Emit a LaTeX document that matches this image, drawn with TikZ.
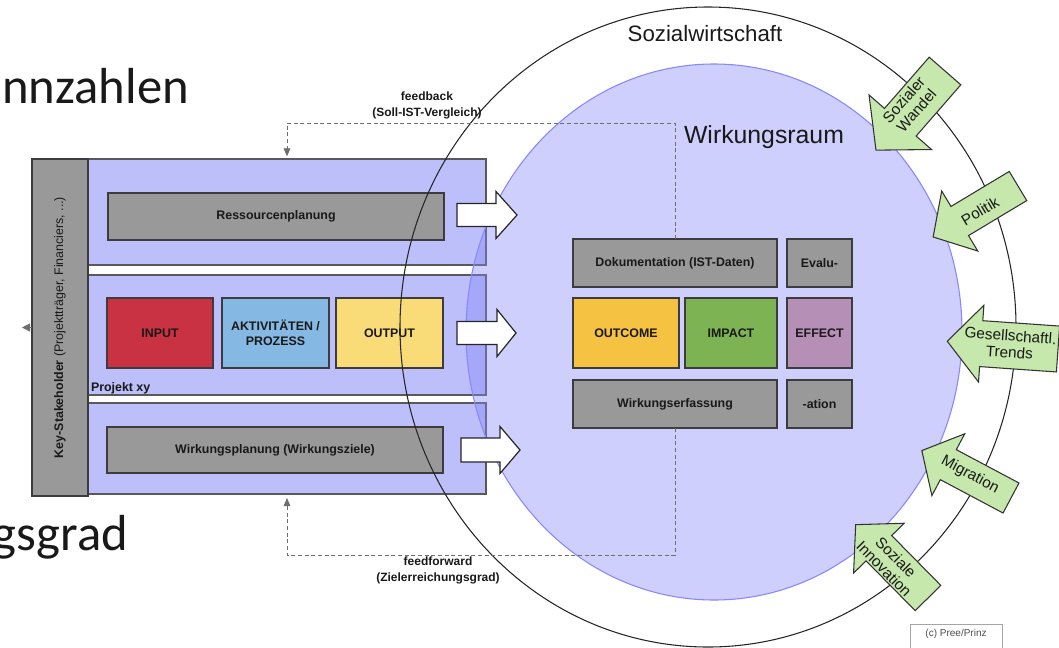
\documentclass[tikz,border=0pt]{standalone}
\usepackage{fontspec}
\setmainfont{Liberation Sans}
\newfontfamily\calibri{Carlito}
\usetikzlibrary{shapes.geometric,arrows.meta,calc}

\definecolor{projfill}{RGB}{188,191,250}
\definecolor{wrfill}{RGB}{132,134,248}
\definecolor{wrline}{RGB}{135,135,255}
\definecolor{boxgray}{RGB}{153,153,153}
\definecolor{boxline}{RGB}{60,60,60}
\definecolor{inputred}{RGB}{201,50,66}
\definecolor{aktblue}{RGB}{133,184,227}
\definecolor{outyellow}{RGB}{249,220,120}
\definecolor{outcomeor}{RGB}{246,194,66}
\definecolor{impactgr}{RGB}{125,179,83}
\definecolor{effectpu}{RGB}{181,143,182}
\definecolor{arrgreen}{RGB}{199,232,172}
\definecolor{dashgray}{RGB}{110,110,110}

\tikzset{
  pics/barrow/.style args={#1/#2/#3/#4}{code={
    \path[pic actions] (0,-#2) -- (#1-#4,-#2) -- (#1-#4,-#3) -- (#1,0) -- (#1-#4,#3) -- (#1-#4,#2) -- (0,#2) -- cycle;}},
  rect/.style args={#1/#2/#3/#4}{at={({(#1+#3)/2},{(#2+#4)/2})},
    minimum width={(#3-#1)*0.75pt}, minimum height={(#4-#2)*0.75pt}},
  rbox/.style={draw=boxline, line width=0.9pt, inner sep=0pt, font=\fontsize{9.3}{11}\selectfont\bfseries, align=center},
  gbox/.style={rbox, fill=boxgray},
  projbox/.style={draw=boxline!85, line width=0.8pt, fill=projfill},
  fbline/.style={draw=dashgray, dash pattern=on 3pt off 2pt, line width=0.6pt, -{Triangle[length=6pt,width=5pt]}},
  fblabel/.style={font=\fontsize{9}{12}\selectfont\bfseries, align=center},
  greenarr/.style={draw=black!80, line width=0.8pt, fill=arrgreen},
  whitearr/.style={draw=black!85, line width=0.9pt, fill=white},
  greentext/.style={font=\fontsize{11.5}{12.5}\selectfont, align=center},
  bigtext/.style={font=\calibri\fontsize{38}{40}\selectfont, anchor=base east}
}

\begin{document}
\begin{tikzpicture}[x=0.75pt,y=-0.75pt,
  every node/.style={inner sep=0pt, outer sep=0pt, text=black!90}]
\useasboundingbox (0,0) rectangle (1059,647);
\clip (0,0) rectangle (1059,647);

% background slide text
\node[bigtext] (kz) at (189,103) {nnzahlen};
\node[bigtext] (zg) at (128,550) {gsgrad};

% project boxes
\node[projbox, rect=88/159/486/265] (proj1) {};
\node[projbox, rect=88/275/486/395] (proj2) {};
\node[projbox, rect=88/403/486/494] (proj3) {};

% stakeholder
\node[gbox, rotate=90, minimum width=337*0.75pt, minimum height=56*0.75pt, font=\fontsize{9.3}{11}\selectfont] (stake) at (60,327.5) {\textbf{Key-Stakeholder} (Projektträger, Financiers, ...)};
\draw[draw=dashgray, line width=0.6pt, -{Triangle[length=6pt,width=6pt]}] (stake.north) -- ++(-10,0);

\node[font=\fontsize{9.3}{11}\selectfont\bfseries, anchor=west] (pxy) at (91,388) {Projekt xy};

\node[gbox, rect=108/193/444/240] (res) {Ressourcenplanung};
\node[rbox, fill=inputred, rect=107/298/213/368] (input) {INPUT};
\node[rbox, fill=aktblue, rect=222/298/329/368] (akt) {AKTIVITÄTEN /\\PROZESS};
\node[rbox, fill=outyellow, rect=336/298/443/368] (output) {OUTPUT};
\node[gbox, rect=107/427/443/473] (wpl) {Wirkungsplanung (Wirkungsziele)};

% circles
\node[ellipse, draw=wrline, line width=0.8pt, fill=wrfill, fill opacity=0.4, minimum width=496*0.75pt, minimum height=536*0.75pt] (wr) at (714,332) {};
\node[ellipse, draw=black!85, line width=0.8pt, minimum width=616*0.75pt, minimum height=640*0.75pt] (sw) at (708,327) {};

% right boxes
\node[gbox, rect=573/239/777/287] (doku) {Dokumentation (IST-Daten)};
\node[gbox, rect=787/239/852/287] (evalu) {Evalu-};
\node[rbox, fill=outcomeor, rect=573/298/679/368] (outcome) {OUTCOME};
\node[rbox, fill=impactgr, rect=685/298/777/368] (impact) {IMPACT};
\node[rbox, fill=effectpu, rect=787/298/852/368] (effect) {EFFECT};
\node[gbox, rect=573/380/777/428] (werf) {Wirkungserfassung};
\node[gbox, rect=787/380/852/428] (ation) {-ation};

% feedback / feedforward
\draw[fbline, shorten >=2pt] (doku.north) -- ++(0,-116) -| (proj1.north);
\draw[fbline, shorten >=3pt] (werf.south) -- ++(0,127) -| (proj3.south);
\node[fblabel] (fbl) at (427,105) {feedback\\(Soll-IST-Vergleich)};
\node[fblabel] (ffl) at (438,570) {feedforward\\(Zielerreichungsgrad)};

% white block arrows
\pic[whitearr] at (457,215) {barrow={60/11.5/23.5/21}};
\pic[whitearr] at (457,333) {barrow={59/11.5/23.5/19}};
\pic[whitearr] at (461,450) {barrow={59/12/23.5/20}};

% green influence arrows
\pic[greenarr, rotate=228.9] at (945,71) {barrow={105/21/41.5/37}};
\pic[greenarr, rotate=211] at (1018,186) {barrow={99/17/35/31}};
\pic[greenarr, rotate=176] at (1058,349) {barrow={111/23/38.5/34}};
\pic[greenarr, rotate=152] at (1011,498) {barrow={101/17/35/30}};
\pic[greenarr, rotate=134.6] at (928,598) {barrow={103/18/35.5/33}};

\node[greentext, rotate=48.9] (tSW) at (910,105) {Sozialer\\Wandel};
\node[greentext, rotate=31] (tPol) at (980,211) {Politik};
\node[greentext, rotate=-4] (tGT) at (1010,344) {Gesellschaftl.\\Trends};
\node[greentext, rotate=-28] (tMig) at (970,475) {Migration};
\node[greentext, rotate=-45.4] (tSI) at (890,563) {Soziale\\Innovation};

% titles
\node[font=\fontsize{16.7}{18}\selectfont] (swt) at (705,34) {Sozialwirtschaft};
\node[font=\fontsize{18.6}{20}\selectfont] (wrt) at (764,137) {Wirkungsraum};

% copyright
\node[draw=black!35, line width=0.6pt, anchor=north, minimum width=92*0.75pt, inner ysep=4pt, text depth=16pt, font=\fontsize{7.5}{9}\selectfont, text=black!70] (copy) at (956,624) {(c) Pree/Prinz};
\end{tikzpicture}
\end{document}
